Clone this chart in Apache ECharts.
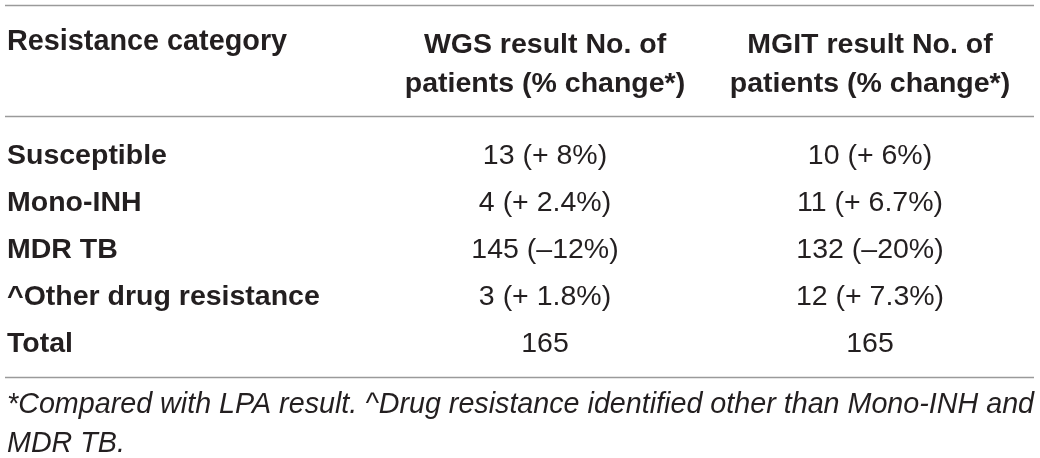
<!DOCTYPE html>
<html>
<head>
<meta charset="utf-8">
<script src="https://cdn.jsdelivr.net/npm/echarts@6/dist/echarts.min.js"></script>
<style>
  html, body { margin: 0; padding: 0; background: #fff; }
  #main { width: 1040px; height: 458px; }
</style>
</head>
<body>
<div id="main"></div>
<script>
// table content
var rowLabels = ['Susceptible', 'Mono-INH', 'MDR TB', '^Other drug resistance', 'Total'];
var columns = ['WGS result No. of\npatients (% change*)', 'MGIT result No. of\npatients (% change*)'];
var firstHeader = 'Resistance category';
var wgsCount = [13, 4, 145, 3, 165];
var wgsChange = ['+ 8%', '+ 2.4%', '–12%', '+ 1.8%', ''];
var mgitCount = [10, 11, 132, 12, 165];
var mgitChange = ['+ 6%', '+ 6.7%', '–20%', '+ 7.3%', ''];
var footnote = '*Compared with LPA result. ^Drug resistance identified other than Mono-INH and\nMDR TB.';

var FONT = '"Liberation Sans", Arial, Helvetica, sans-serif';
var INK = '#231f20';
var RULE = '#9a9a9a';
var SIZE = 28.5;

//单元格数据
function cells(counts, changes, col) {
    return counts.map(function(v, i) {
        return {
            value: [col, i],
            txt: changes[i] ? v + ' (' + changes[i] + ')' : String(v)
        };
    });
}

function cellSeries(name, counts, changes, col) {
    return {
        name: name,
        type: 'scatter',
        symbolSize: 0,
        silent: true,
        itemStyle: { opacity: 1 },
        data: cells(counts, changes, col),
        label: {
            show: true,
            position: 'inside',
            color: INK,
            opacity: 1,
            fontFamily: FONT,
            fontSize: SIZE,
            formatter: function(p) { return p.data.txt; }
        }
    };
}

var myChart = echarts.init(document.getElementById('main'));

var option = {
    animation: false,
    backgroundColor: '#fff',
    grid: { left: 382.5, right: 7.5, top: 133, bottom: 90 },
    xAxis: {
        type: 'category',
        position: 'top',
        data: columns,
        axisLine: { show: false },
        axisTick: { show: false },
        splitLine: { show: false },
        axisLabel: {
            interval: 0,
            margin: 29.5,
            color: INK,
            fontFamily: FONT,
            fontWeight: 'bold',
            fontSize: SIZE,
            lineHeight: 39,
            align: 'center'
        }
    },
    yAxis: {
        type: 'category',
        inverse: true,
        data: rowLabels,
        axisLine: { show: false },
        axisTick: { show: false },
        splitLine: { show: false },
        axisLabel: {
            interval: 0,
            margin: 375.5,
            align: 'left',
            color: INK,
            fontFamily: FONT,
            fontWeight: 'bold',
            fontSize: SIZE
        }
    },
    series: [
        cellSeries('WGS', wgsCount, wgsChange, 0),
        cellSeries('MGIT', mgitCount, mgitChange, 1)
    ],
    graphic: [
        { type: 'line', shape: { x1: 5, y1: 5.5, x2: 1034, y2: 5.5 }, style: { stroke: RULE, lineWidth: 1.5 } },
        { type: 'line', shape: { x1: 5, y1: 116.5, x2: 1034, y2: 116.5 }, style: { stroke: RULE, lineWidth: 1.5 } },
        { type: 'line', shape: { x1: 5, y1: 377.5, x2: 1034, y2: 377.5 }, style: { stroke: RULE, lineWidth: 1.5 } },
        {
            type: 'text', x: 7, y: 42,
            style: {
                text: firstHeader, fill: INK, verticalAlign: 'middle',
                font: 'bold 28.8px ' + FONT
            }
        },
        {
            type: 'text', x: 7, y: 386,
            style: {
                text: footnote, fill: INK, lineHeight: 39,
                font: 'italic 28.7px ' + FONT
            }
        }
    ]
};

myChart.setOption(option);
</script>
</body>
</html>
